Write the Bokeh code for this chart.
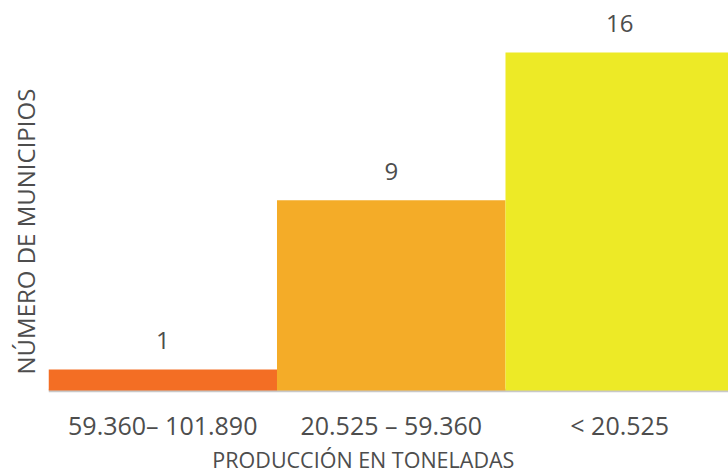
from bokeh.plotting import figure
from bokeh.models import Range1d, Title, Span, ColumnDataSource
from bokeh.core.properties import value
from bokeh.embed import file_html
from bokeh.resources import INLINE

categories = ["59.360\u2013 101.890", "20.525 \u2013 59.360", "< 20.525"]
counts = [1, 9, 16]
colors = ["#F36E24", "#F4AC28", "#EDEA26"]
x_title = "PRODUCCIÓN EN TONELADAS"
y_title = "NÚMERO DE MUNICIPIOS"

FONT = "Open Sans"
TXT = "#4d4d4d"

xs = [i + 0.5 for i in range(len(categories))]
src = ColumnDataSource(dict(x=xs, top=counts, base=[0] * len(counts), color=colors,
                            label=[str(c) for c in counts], cat=categories))

p = figure(width=728, height=476, output_backend="svg", toolbar_location=None,
           x_range=Range1d(0, 2.976), y_range=Range1d(-4.07, 18.46),
           x_axis_location=None, y_axis_location=None,
           min_border_left=48, min_border_right=0, min_border_top=0,
           min_border_bottom=0)
p.outline_line_color = None
p.grid.grid_line_color = None

# baseline
p.add_layout(Span(location=0, dimension="width", line_color="#c8c8c8",
                  line_width=3.5, level="underlay"))

p.vbar(x="x", top="top", width=1.0, bottom=0, color="color", line_color=None, source=src)

# value labels
p.text(x="x", y="top", text="label", source=src, text_align="center",
       text_baseline="alphabetic", y_offset=-29, text_font=value(FONT),
       text_font_size="24px", text_color=TXT)

# category labels
p.text(x="x", y="base", text="cat", source=src, text_align="center",
       text_baseline="alphabetic", y_offset=34, text_font=value(FONT),
       text_font_size="25px", text_color=TXT)

# x title
p.text(x=[1.378], y=[0], text=[x_title], text_align="center",
       text_baseline="alphabetic", y_offset=69, text_font=value(FONT),
       text_font_size="21.5px", text_color=TXT)

yt = Title(text=y_title, align="left", offset=102, standoff=13,
           text_font=FONT, text_font_size="24px", text_font_style="normal",
           text_line_height=1.0, text_color=TXT)
p.add_layout(yt, "left")

open("out.html", "w").write(file_html(p, INLINE))
